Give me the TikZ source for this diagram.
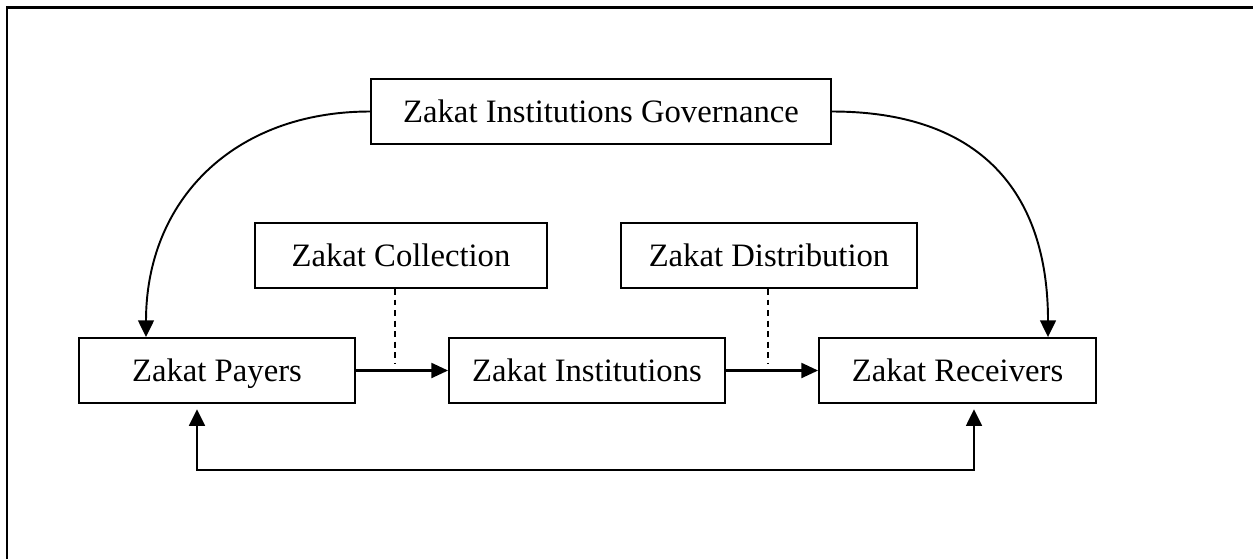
\documentclass[tikz,border=0pt]{standalone}
\usepackage{fontspec}
\setmainfont{Liberation Serif}
\usepackage{xcolor}
\usepackage{tikz}
\usetikzlibrary{calc,arrows.meta}
\definecolor{ink}{HTML}{000000}
\definecolor{paper}{HTML}{FFFFFF}
\tikzset{
  frame/.style={draw=ink, line width=1.7pt},
  box/.style={draw=ink, fill=paper, line width=1.1pt, minimum height=1.3cm,
    inner sep=0pt, text height=12.2pt, text depth=0pt,
    font=\fontsize{18.6}{22}\selectfont},
  flow/.style={draw=ink, line width=1.3pt, -{Triangle[length=9.5pt,width=8.5pt]}},
  arc/.style={draw=ink, line width=1.1pt, -{Triangle[length=9.5pt,width=9pt]}},
  back/.style={draw=ink, line width=1.3pt,
    {Triangle[length=9.5pt,width=9pt]}-{Triangle[length=9.5pt,width=9pt]},
    shorten <=3pt, shorten >=3pt},
  guide/.style={draw=ink, line width=0.7pt, dash pattern=on 3.4pt off 2.6pt}
}

\begin{document}
\begin{tikzpicture}[x=0.02cm, y=-0.02cm]
  \useasboundingbox (0,0) rectangle (1253,559);
  \draw[frame] (7,559) -- (7,7) -- (1253,7);

  % top row
  \node[box, minimum width=9.2cm] (gov) at (601,111.5) {Zakat Institutions Governance};
  \node[box, minimum width=5.84cm] (coll) at (401,255.5) {Zakat Collection};
  \node[box, minimum width=5.92cm] (dist) at (769,255.5) {Zakat Distribution};

  % main flow
  \node[box, minimum width=5.52cm] (pay)  at (217,370.5) {Zakat Payers};
  \node[box, minimum width=5.52cm] (inst) at (587,370.5) {Zakat Institutions};
  \node[box, minimum width=5.54cm] (recv) at (957.5,370.5) {Zakat Receivers};

  \coordinate (cm)  at (395,364);
  \coordinate (dm)  at (768,364);
  \coordinate (pin) at (146,0);
  \coordinate (rin) at (1048,0);
  \coordinate (pl)  at (197,470);
  \coordinate (rl)  at (974,470);

  \draw[flow] (pay) -- (inst);
  \draw[flow] (inst) -- (recv);
  \draw[guide] (coll.south -| cm) -- (cm);
  \draw[guide] (dist.south -| dm) -- (dm);

  \draw[arc] (gov.west) to[out=180, in=90, looseness=1.1] (pay.north -| pin);
  \draw[arc] (gov.east) to[out=0, in=90, looseness=1.2] (recv.north -| rin);

  \draw[back] (pay.south -| pl) -- (pl) -- (rl) -- (recv.south -| rl);
\end{tikzpicture}
\end{document}
